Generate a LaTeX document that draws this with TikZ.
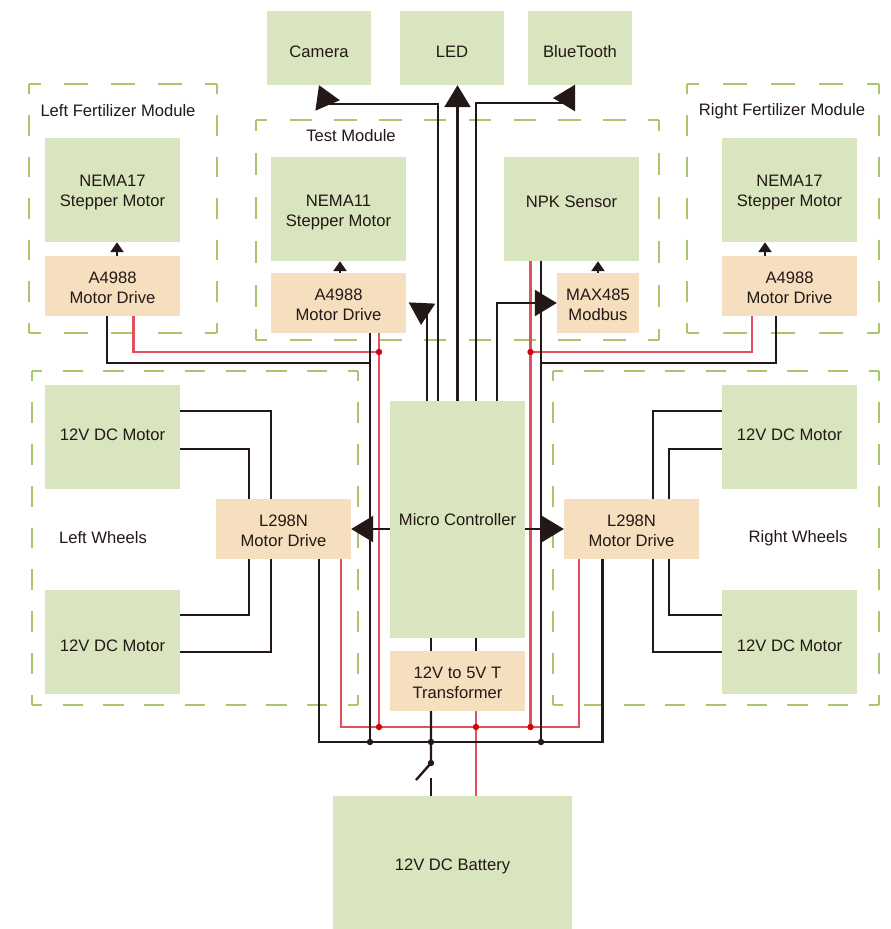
\documentclass[tikz,border=0pt]{standalone}
\usepackage{fontspec}
\setmainfont{Liberation Sans}
\usetikzlibrary{arrows.meta, backgrounds}
\definecolor{boxgreen}{HTML}{D9E5BE}
\definecolor{boxorange}{HTML}{F5DFBE}
\definecolor{dashgreen}{HTML}{A9C76A}
\definecolor{wireblack}{HTML}{231815}
\definecolor{wirered}{HTML}{E2505F}
\definecolor{dotred}{HTML}{D7000F}
\tikzset{
  textdown/.style={execute at begin node={\rule{0pt}{\dimexpr 12pt+#1*2\relax}}},
  pairdown/.style={execute at begin node={\rule{0pt}{\dimexpr 32pt+#1*2\relax}}},
  textup/.style={execute at begin node={\rule[\dimexpr -#1*2\relax]{0pt}{\dimexpr #1*2\relax}}},
  greenbox/.style={fill=boxgreen, inner sep=0pt, align=center},
  orangebox/.style={fill=boxorange, inner sep=0pt, align=center, pairdown=2pt},
  motorbox/.style={greenbox, minimum width=135pt, minimum height=104pt},
  topbox/.style={greenbox, minimum width=104pt, minimum height=74pt, textdown=3.5pt},
  drivebox/.style={orangebox, minimum width=135pt, minimum height=60pt},
  blackwire/.style={draw=wireblack, line width=2.4pt},
  redwire/.style={draw=wirered, line width=2.4pt},
  bigarrow/.style={blackwire, -{Triangle[length=22pt,width=26pt]}},
  smallarrow/.style={blackwire, -{Triangle[length=10pt,width=13pt]}}
}
% frame with whole dashes on each side: x1 y1 x2 y2 hperiod vperiod
\newcommand{\moduleframe}[6]{
  \pgfmathsetmacro\onx{#5/2}
  \pgfmathsetmacro\ony{#6/2}
  \pgfmathsetmacro\phx{#5/4}
  \pgfmathsetmacro\phy{#6/4}
  \draw[draw=dashgreen, line width=2.4pt, dash pattern=on \onx pt off \onx pt, dash phase=\phx pt]
    (#1,#2) -- (#3,#2) (#1,#4) -- (#3,#4);
  \draw[draw=dashgreen, line width=2.4pt, dash pattern=on \ony pt off \ony pt, dash phase=\phy pt]
    (#1,#2) -- (#1,#4) (#3,#2) -- (#3,#4);
}
\begin{document}
\begin{tikzpicture}[x=1pt, y=-1pt, font=\fontsize{16.6}{20}\selectfont, text=wireblack]
  \useasboundingbox (0,0) rectangle (891,929);
  % module frames
  \moduleframe{29}{84}{217}{333}{47}{41.5}
  \moduleframe{256}{120}{659}{340}{44.8}{44}
  \moduleframe{687}{84}{879}{333}{48}{41.5}
  \moduleframe{32}{371}{358}{705}{40.75}{41.75}
  \moduleframe{553}{371}{879}{705}{40.75}{41.75}
  \node (lblFertL) at (118,111) {Left Fertilizer Module};
  \node (lblTest) at (351,136) {Test Module};
  \node (lblFertR) at (782,111) {Right Fertilizer Module};
  \node (lblWheelL) at (103,538) {Left Wheels};
  \node (lblWheelR) at (798,538) {Right Wheels};
  % boxes
  \node[topbox] (camera) at (319,48) {Camera};
  \node[topbox] (led) at (452,48) {LED};
  \node[topbox] (bluetooth) at (580,48) {BlueTooth};
  \node[motorbox, pairdown=2.5pt] (nemaL) at (112.5,190) {NEMA17\\Stepper Motor};
  \node[drivebox] (driveL) at (112.5,286) {A4988\\Motor Drive};
  \node[motorbox, pairdown=3pt] (nemaT) at (338.5,209) {NEMA11\\Stepper Motor};
  \node[drivebox] (driveT) at (338.5,303) {A4988\\Motor Drive};
  \node[motorbox, pairdown=2pt] (npk) at (571.5,209) {NPK Sensor\\~};
  \node[orangebox, minimum width=82pt, minimum height=60pt] (max) at (598,303) {MAX485\\Modbus};
  \node[motorbox, pairdown=2.5pt] (nemaR) at (789.5,190) {NEMA17\\Stepper Motor};
  \node[drivebox] (driveR) at (789.5,286) {A4988\\Motor Drive};
  \node[motorbox, textup=2pt] (motorLA) at (112.5,437) {12V DC Motor};
  \node[motorbox, textdown=4pt] (motorLB) at (112.5,642) {12V DC Motor};
  \node[motorbox, textup=2pt] (motorRA) at (789.5,437) {12V DC Motor};
  \node[motorbox, textdown=4pt] (motorRB) at (789.5,642) {12V DC Motor};
  \node[drivebox, pairdown=1pt] (l298L) at (283.5,529) {L298N\\Motor Drive};
  \node[drivebox, pairdown=1pt] (l298R) at (631.5,529) {L298N\\Motor Drive};
  \node[greenbox, minimum width=135pt, minimum height=237pt] (mcu) at (457.5,519.5) {Micro Controller};
  \node[drivebox, pairdown=1pt] (trans) at (457.5,681) {12V to 5V T\\Transformer};
  \node[greenbox, minimum width=239pt, minimum height=133pt, textdown=4pt] (battery) at (452.5,862.5) {12V DC Battery};
  % junctions
  \coordinate (redL) at (379,352);
  \coordinate (redR) at (530.5,352);
  \coordinate (blackL) at (370,363);
  \coordinate (blackR) at (541,363);
  \coordinate (busRedL) at (379,727);
  \coordinate (busRedM) at (476,727);
  \coordinate (busRedR) at (530.5,727);
  \coordinate (busBlackL) at (370,742);
  \coordinate (busBlackM) at (431,742);
  \coordinate (busBlackR) at (541,742);
  \coordinate (swTop) at (431,763);
  \coordinate (swArm) at (416,780);
  \coordinate (swLow) at (431,778);
  % power, red
  \draw[redwire] ([xshift=21pt]driveL.south) |- (redL);
  \draw[redwire] ([xshift=40.5pt]driveT.south) -- (busRedL);
  \draw[redwire] ([xshift=-41pt]npk.south) -- (busRedR);
  \draw[redwire] ([xshift=-37.5pt]driveR.south) |- (redR);
  \draw[redwire] ([xshift=57.5pt]l298L.south) |- (busRedM) -| ([xshift=-52.5pt]l298R.south);
  \draw[redwire] ([xshift=18.5pt]trans.south) -- ([xshift=23.5pt]battery.north);
  % power, black
  \draw[blackwire] ([xshift=-5.5pt]driveL.south) |- (blackL);
  \draw[blackwire] ([xshift=31.5pt]driveT.south) -- (busBlackL);
  \draw[blackwire] ([xshift=-30.5pt]npk.south) -- (busBlackR);
  \draw[blackwire] ([xshift=-13.5pt]driveR.south) |- (blackR);
  \draw[blackwire] ([xshift=35.5pt]l298L.south) |- (busBlackM) -| ([xshift=-29pt]l298R.south);
  \draw[blackwire] ([xshift=-26.5pt]trans.south) -- (swTop) -- (swArm);
  \draw[blackwire] (swLow) -- ([xshift=-21.5pt]battery.north);
  \draw[blackwire] ([xshift=-26.5pt]mcu.south) -- ([xshift=-26.5pt]trans.north);
  \draw[blackwire] ([xshift=18.5pt]mcu.south) -- ([xshift=18.5pt]trans.north);
  % dots
  \fill[dotred] (redL) circle (3.2pt) (redR) circle (3.2pt);
  \fill[dotred] (busRedL) circle (3.2pt) (busRedM) circle (3.2pt) (busRedR) circle (3.2pt);
  \fill[wireblack] (busBlackL) circle (3.2pt) (busBlackM) circle (3.2pt) (busBlackR) circle (3.2pt);
  \fill[wireblack] (swTop) circle (3.2pt);
  % wheel motors, behind the L298N boxes
  \begin{pgfonlayer}{background}
    \draw[blackwire] ([yshift=26pt]motorLA.east) -| (271,530) |- ([yshift=-10pt]motorLB.east);
    \draw[blackwire] ([yshift=-12pt]motorLA.east) -| (249,530) |- ([yshift=27pt]motorLB.east);
    \draw[blackwire] ([yshift=26pt]motorRA.west) -| (653,530) |- ([yshift=-10pt]motorRB.west);
    \draw[blackwire] ([yshift=-12pt]motorRA.west) -| (669,530) |- ([yshift=27pt]motorRB.west);
  \end{pgfonlayer}
  % signals out of the controller
  \draw[bigarrow] (mcu.west |- l298L.east) -- (l298L.east);
  \draw[bigarrow] (mcu.east |- l298R.west) -- (l298R.west);
  \draw[bigarrow] (mcu.north) -- (mcu.north |- led.south);
  \coordinate (camBend) at (327,104);
  \draw[blackwire] ([xshift=-19.5pt]mcu.north) |- (camBend);
  \draw[bigarrow] (camBend) -- (camera.south);
  \coordinate (btEnd) at (575,98);
  \coordinate (btTip) at (553,98);
  \draw[blackwire] ([xshift=18.5pt]mcu.north) |- (575,103);
  \draw[bigarrow] (btEnd) -- (btTip);
  \coordinate (driveEnd) at (422,303);
  \coordinate (driveTip) at (421,325);
  \draw[blackwire] ([xshift=-30.5pt]mcu.north) -- ++(0,-97);
  \draw[bigarrow] (driveEnd) -- (driveTip);
  \draw[bigarrow] ([xshift=39.5pt]mcu.north) |- (max.west);
  % small arrows
  \draw[smallarrow] ([xshift=4.5pt]driveL.north) -- ([xshift=4.5pt]nemaL.south);
  \draw[smallarrow] ([xshift=1.5pt]driveT.north) -- ([xshift=1.5pt]nemaT.south);
  \draw[smallarrow] (max.north) -- (max.north |- npk.south);
  \draw[smallarrow] ([xshift=-24.5pt]driveR.north) -- ([xshift=-24.5pt]nemaR.south);
\end{tikzpicture}
\end{document}
